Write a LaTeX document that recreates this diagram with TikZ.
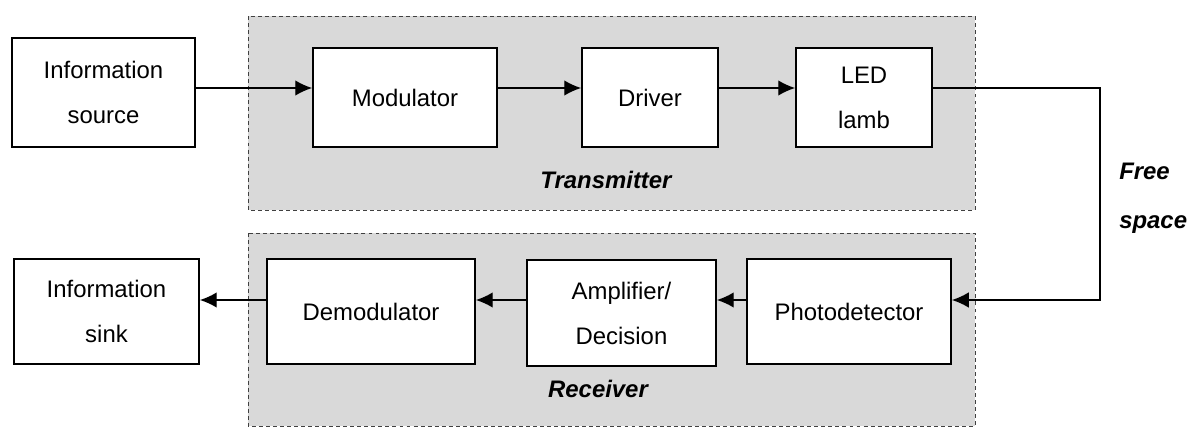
\documentclass[tikz,border=0pt]{standalone}
\usepackage{fontspec}
\setmainfont{Liberation Sans}
\usetikzlibrary{arrows.meta}
\begin{document}
\begin{tikzpicture}[x=0.025cm, y=-0.025cm]
	\tikzset{bloc/.style={rectangle, draw=black, line width=1.2pt, fill=white, align=center, inner sep=0pt, font=\fontsize{17}{32}\selectfont},
		fleche/.style={-{Latex[length=12pt, width=11pt]}, line width=1pt},
		zone/.style={draw=black!75, dash pattern=on 2.8pt off 2.2pt, line width=0.7pt, fill=black!15},
		titre/.style={font=\fontsize{17}{20}\selectfont\bfseries\itshape, inner sep=0pt, anchor=base}};
	\useasboundingbox (0,0) rectangle (1193,434);

	% zones
	\draw[zone] (248,16) rectangle (975,210);
	\draw[zone] (248,233) rectangle (975,426);
	\node[titre] (emet) at (606,188) {Transmitter};
	\node[titre] (recep) at (598,397) {Receiver};

	% emission
	\node[bloc, minimum width=4.575cm, minimum height=2.725cm] (src) at (103.5,92.5) {Information\\source};
	\node[bloc, minimum width=4.6cm, minimum height=2.475cm] (mod) at (405,97.5) {Modulator};
	\node[bloc, minimum width=3.4cm, minimum height=2.475cm] (drv) at (650,97.5) {Driver};
	\node[bloc, minimum width=3.4cm, minimum height=2.475cm] (led) at (864,97.5) {LED\\lamb};

	% reception
	\node[bloc, minimum width=4.625cm, minimum height=2.625cm] (sink) at (106.5,311.5) {Information\\sink};
	\node[bloc, minimum width=5.2cm, minimum height=2.625cm] (demod) at (371,311.5) {Demodulator};
	\node[bloc, minimum width=4.725cm, minimum height=2.65cm] (amp) at (621.5,313) {Amplifier/\\Decision};
	\node[bloc, minimum width=5.1cm, minimum height=2.625cm] (photo) at (849,311.5) {Photodetector};

	\coordinate (haut) at (0,88);
	\coordinate (bas) at (0,300);
	\coordinate (coin1) at (1100,88);
	\coordinate (coin2) at (1100,300);

	\draw[fleche] (src.east |- haut) -- (mod.west |- haut);
	\draw[fleche] (mod.east |- haut) -- (drv.west |- haut);
	\draw[fleche] (drv.east |- haut) -- (led.west |- haut);
	\draw[fleche] (led.east |- haut) -- (coin1) -- (coin2) -- (photo.east |- bas);
	\draw[fleche] (photo.west |- bas) -- (amp.east |- bas);
	\draw[fleche] (amp.west |- bas) -- (demod.east |- bas);
	\draw[fleche] (demod.west |- bas) -- (sink.east |- bas);

	\node[titre, anchor=base west] (libre) at (1119,179) {Free};
	\node[titre, anchor=base west] (espace) at (1119,228) {space};
\end{tikzpicture}
\end{document}
